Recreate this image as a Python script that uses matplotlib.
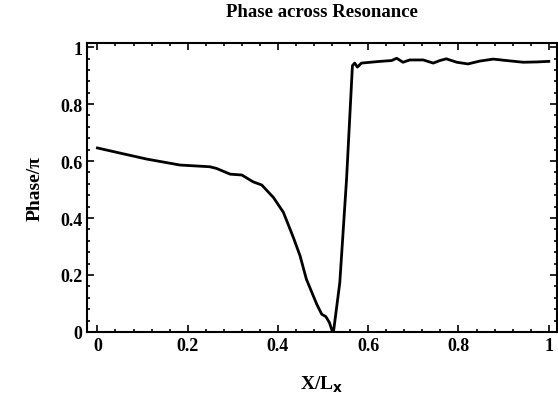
import matplotlib
matplotlib.use("Agg")
import matplotlib.pyplot as plt
from matplotlib.ticker import MultipleLocator

x = [0.0, 0.05, 0.109, 0.183, 0.249, 0.264, 0.294, 0.320, 0.345, 0.364,
     0.390, 0.412, 0.434, 0.449, 0.463, 0.486, 0.497, 0.506, 0.514, 0.520,
     0.523, 0.537, 0.552, 0.565, 0.570, 0.576, 0.585, 0.626, 0.652, 0.663,
     0.677, 0.692, 0.722, 0.744, 0.759, 0.773, 0.796, 0.821, 0.847, 0.877,
     0.906, 0.943, 0.973, 1.0]
phase = [0.646, 0.628, 0.607, 0.586, 0.580, 0.574, 0.554, 0.551, 0.527, 0.516,
         0.472, 0.420, 0.332, 0.267, 0.185, 0.097, 0.062, 0.054, 0.033, 0.004,
         0.0, 0.173, 0.537, 0.935, 0.944, 0.930, 0.944, 0.950, 0.953, 0.961,
         0.947, 0.955, 0.955, 0.944, 0.953, 0.959, 0.947, 0.941, 0.951, 0.958,
         0.953, 0.947, 0.948, 0.950]

plt.rcParams['font.family'] = 'Liberation Serif'
plt.rcParams['font.weight'] = 'bold'

fig = plt.figure(figsize=(5.58, 4.10), dpi=100)
ax = fig.add_axes([0.156, 0.188, 0.842, 0.705])

ax.plot(x, phase, color='black', linewidth=2)

ax.set_xlim(-0.023, 1.018)
ax.set_ylim(0, 1.015)
ax.xaxis.set_major_locator(MultipleLocator(0.2))
ax.yaxis.set_major_locator(MultipleLocator(0.2))
ax.xaxis.set_minor_locator(MultipleLocator(0.04))
ax.yaxis.set_minor_locator(MultipleLocator(0.04))
ax.xaxis.set_major_formatter(plt.FuncFormatter(lambda v, p: f"{v:g}"))
ax.yaxis.set_major_formatter(plt.FuncFormatter(lambda v, p: f"{v:g}"))
ax.tick_params(which='both', direction='in', top=True, right=True,
               labelsize=13, width=1.2)
ax.tick_params(which='major', length=5)
ax.tick_params(which='minor', length=2.5)
for s in ax.spines.values():
    s.set_linewidth(1.5)

ax.set_title("Phase across Resonance", fontsize=13.5, fontweight='bold', pad=19)
ax.set_xlabel(r"X/L$_\mathbf{x}$", fontsize=14, fontweight='bold', labelpad=14)
ax.set_ylabel("Phase/π", fontsize=14, fontweight='bold', labelpad=12)

fig.savefig("out.png", dpi=100)
